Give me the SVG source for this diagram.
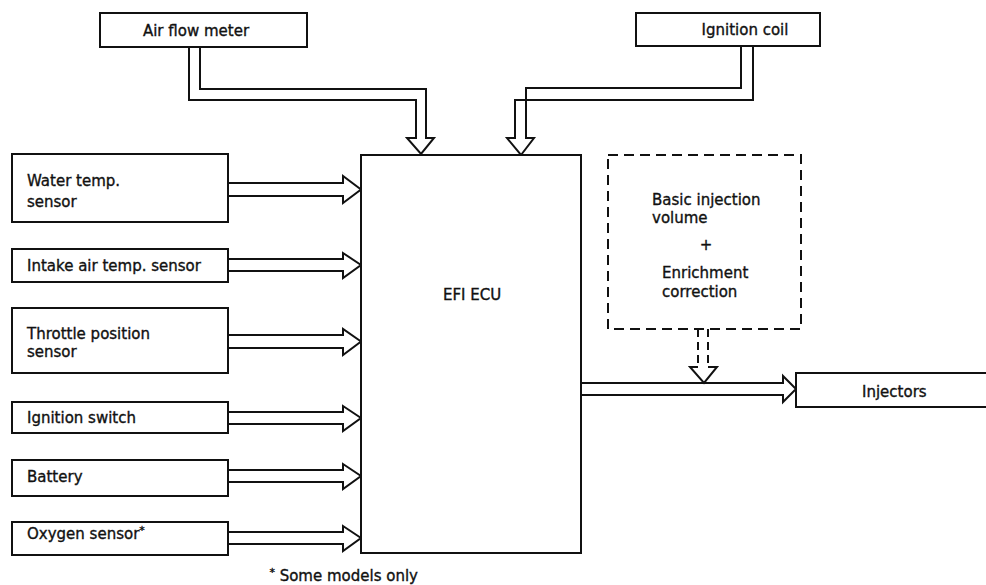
<svg xmlns="http://www.w3.org/2000/svg" width="986" height="585" viewBox="0 0 986 585">
  <style>
    .box { fill: #fff; stroke: #111; stroke-width: 2; }
    .dash { fill: none; stroke: #111; stroke-width: 2; stroke-dasharray: 10 6; }
    .pipe { fill: none; stroke: #111; stroke-width: 2; stroke-linejoin: miter; }
    .pipe-dash { fill: none; stroke: #111; stroke-width: 2; stroke-dasharray: 8 5; }
    text { font-family: "DejaVu Sans", "Liberation Sans", sans-serif; font-size: 15px; fill: #111; stroke: #111; stroke-width: 0.35; }
    .mid { text-anchor: middle; }
  </style>
  <rect width="986" height="585" fill="#fff"/>

  <!-- hollow double-line arrows -->
  <g id="connectors">
    <!-- Air flow meter to ECU -->
    <path class="pipe" d="M189,47 V100 H416 V138 H407 L421,154 L434,138 H426 V89 H200 V47"/>
    <!-- Ignition coil to ECU -->
    <path class="pipe" d="M753,46 V100 H515 V138 H507 L521,155 L534,138 H526 V88 H741 V46"/>
    <!-- sensors to ECU -->
    <path class="pipe" d="M228,183 H343 V176 L361,189.5 L343,203 V196 H228"/>
    <path class="pipe" d="M228,259 H343 V253 L361,265 L343,278 V271 H228"/>
    <path class="pipe" d="M228,335 H343 V329 L361,341.5 L343,355 V348 H228"/>
    <path class="pipe" d="M228,412 H343 V406 L361,418 L343,431 V424 H228"/>
    <path class="pipe" d="M228,470 H343 V464 L361,476 L343,489 V482 H228"/>
    <path class="pipe" d="M228,532 H343 V526 L361,538 L343,551 V544 H228"/>
    <!-- ECU to injectors -->
    <path class="pipe" d="M581,383 H783 V376 L796,389 L783,402 V395 H581"/>
    <!-- calculation feeding the output -->
    <line class="pipe-dash" x1="698" y1="329" x2="698" y2="367"/>
    <line class="pipe-dash" x1="708" y1="329" x2="708" y2="367"/>
    <path class="pipe" d="M698,367 H690 L704,383 L717,367 H708"/>
  </g>

  <g id="air-flow-meter">
    <rect class="box" x="100" y="13" width="207" height="34"/>
    <text class="mid" x="196" y="36">Air flow meter</text>
  </g>

  <g id="ignition-coil">
    <rect class="box" x="636" y="13" width="184" height="33"/>
    <text class="mid" x="745" y="35">Ignition coil</text>
  </g>

  <g id="efi-ecu">
    <rect class="box" x="361" y="155" width="220" height="398"/>
    <text x="443" y="300">EFI ECU</text>
  </g>

  <g id="water-temp-sensor">
    <rect class="box" x="12" y="154" width="216" height="68"/>
    <text x="27" y="186">Water temp.</text>
    <text x="27" y="207">sensor</text>
  </g>

  <g id="intake-air-temp-sensor">
    <rect class="box" x="12" y="249" width="216" height="33"/>
    <text x="27" y="271">Intake air temp. sensor</text>
  </g>

  <g id="throttle-position-sensor">
    <rect class="box" x="12" y="308" width="216" height="65"/>
    <text x="27" y="339">Throttle position</text>
    <text x="27" y="357">sensor</text>
  </g>

  <g id="ignition-switch">
    <rect class="box" x="12" y="402" width="216" height="31"/>
    <text x="27" y="423">Ignition switch</text>
  </g>

  <g id="battery">
    <rect class="box" x="12" y="460" width="216" height="36"/>
    <text x="27" y="482">Battery</text>
  </g>

  <g id="oxygen-sensor">
    <rect class="box" x="12" y="522" width="216" height="33"/>
    <text x="27" y="539">Oxygen sensor<tspan font-size="11" dy="-5">*</tspan></text>
  </g>

  <g id="injection-calculation">
    <rect class="dash" x="608" y="155" width="193" height="174"/>
    <text x="652" y="205">Basic injection</text>
    <text x="652" y="223">volume</text>
    <text class="mid" x="706" y="250">+</text>
    <text x="662" y="278">Enrichment</text>
    <text x="662" y="297">correction</text>
  </g>

  <g id="injectors">
    <rect class="box" x="796" y="373" width="192" height="34"/>
    <text x="862" y="397">Injectors</text>
  </g>

  <g id="footnote">
    <text x="418" y="581" text-anchor="end" font-size="14"><tspan font-size="11" dy="-5">*</tspan><tspan dy="5"> Some models only</tspan></text>
  </g>
</svg>
